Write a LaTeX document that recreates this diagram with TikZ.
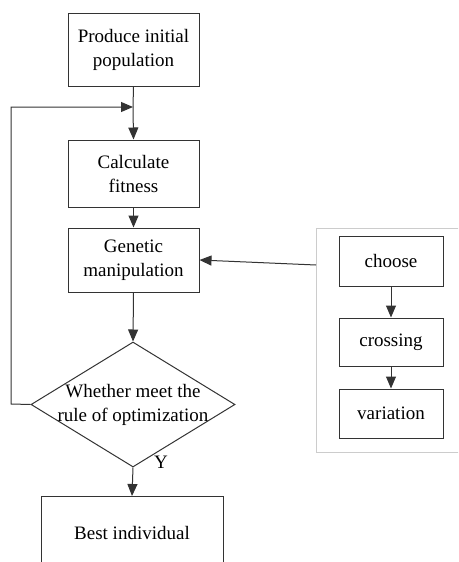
\documentclass[tikz,border=0pt]{standalone}
\usepackage{fontspec}
\setmainfont{Liberation Serif}
\usetikzlibrary{arrows.meta,shapes.geometric}
\begin{document}
\begin{tikzpicture}[x=1pt,y=-1pt,
  line/.style={draw=black!80, line width=1pt},
  arr/.style={line, -{Triangle[length=12pt,width=10pt]}},
  box/.style={line, fill=white, rectangle, inner sep=0pt, align=center,
    font=\fontsize{19}{24}\selectfont},
  lbl/.style={font=\fontsize{19}{24}\selectfont, inner sep=0pt},
  decide/.style={line, diamond, inner sep=0pt, minimum width=204pt, minimum height=125pt, aspect=1.63}]
\useasboundingbox (0,0) rectangle (458,562);
\clip (0,0) rectangle (458,562);

% operator panel on the right
\draw[draw=black!20, line width=1pt] (316,228) rectangle (480,452);
\coordinate (gin) at (316,265);

% main flow
\node[box, minimum width=131pt, minimum height=73pt] (init) at (133.5,49.5) {Produce initial\\population};
\node[box, minimum width=131pt, minimum height=67pt] (fit) at (133.5,173.5) {Calculate\\fitness};
\node[box, minimum width=131pt, minimum height=64pt] (gen) at (133.5,260) {Genetic\\manipulation};
\node[decide] (rule) at (133,404.5) {};
\node[lbl, align=center] (ruletxt) at (133,404.5) {Whether meet the\\rule of optimization};
\node[lbl] (yes) at (161,462) {Y};

% final box, running off the bottom edge
\node[box, minimum width=182pt, minimum height=100pt, anchor=north] (best) at (132,496) {};
\node[lbl] (besttxt) at (132,533) {Best individual};

% genetic operators
\node[box, minimum width=104pt, minimum height=50pt] (choose) at (391,261) {choose};
\node[box, minimum width=104pt, minimum height=48pt] (cross) at (391,342) {crossing};
\node[box, minimum width=104pt, minimum height=49pt] (vari) at (391,413.5) {variation};

% connectors
\coordinate (loop) at (133,107);
\draw[line] (init.south) -- (loop);
\draw[arr] (loop) -- (fit.north);
\draw[arr] (fit.south) -- (gen.north);
\draw[arr] (gen.south) -- (rule.north);
\draw[arr] (rule.south) -- (best.north);
\draw[arr] (rule.west) -- (11,404) -- (11,107) -- (loop);
\draw[arr] (gin) -- (gen.east);
\draw[arr] (choose.south) -- (cross.north);
\draw[arr] (cross.south) -- (vari.north);
\end{tikzpicture}
\end{document}
